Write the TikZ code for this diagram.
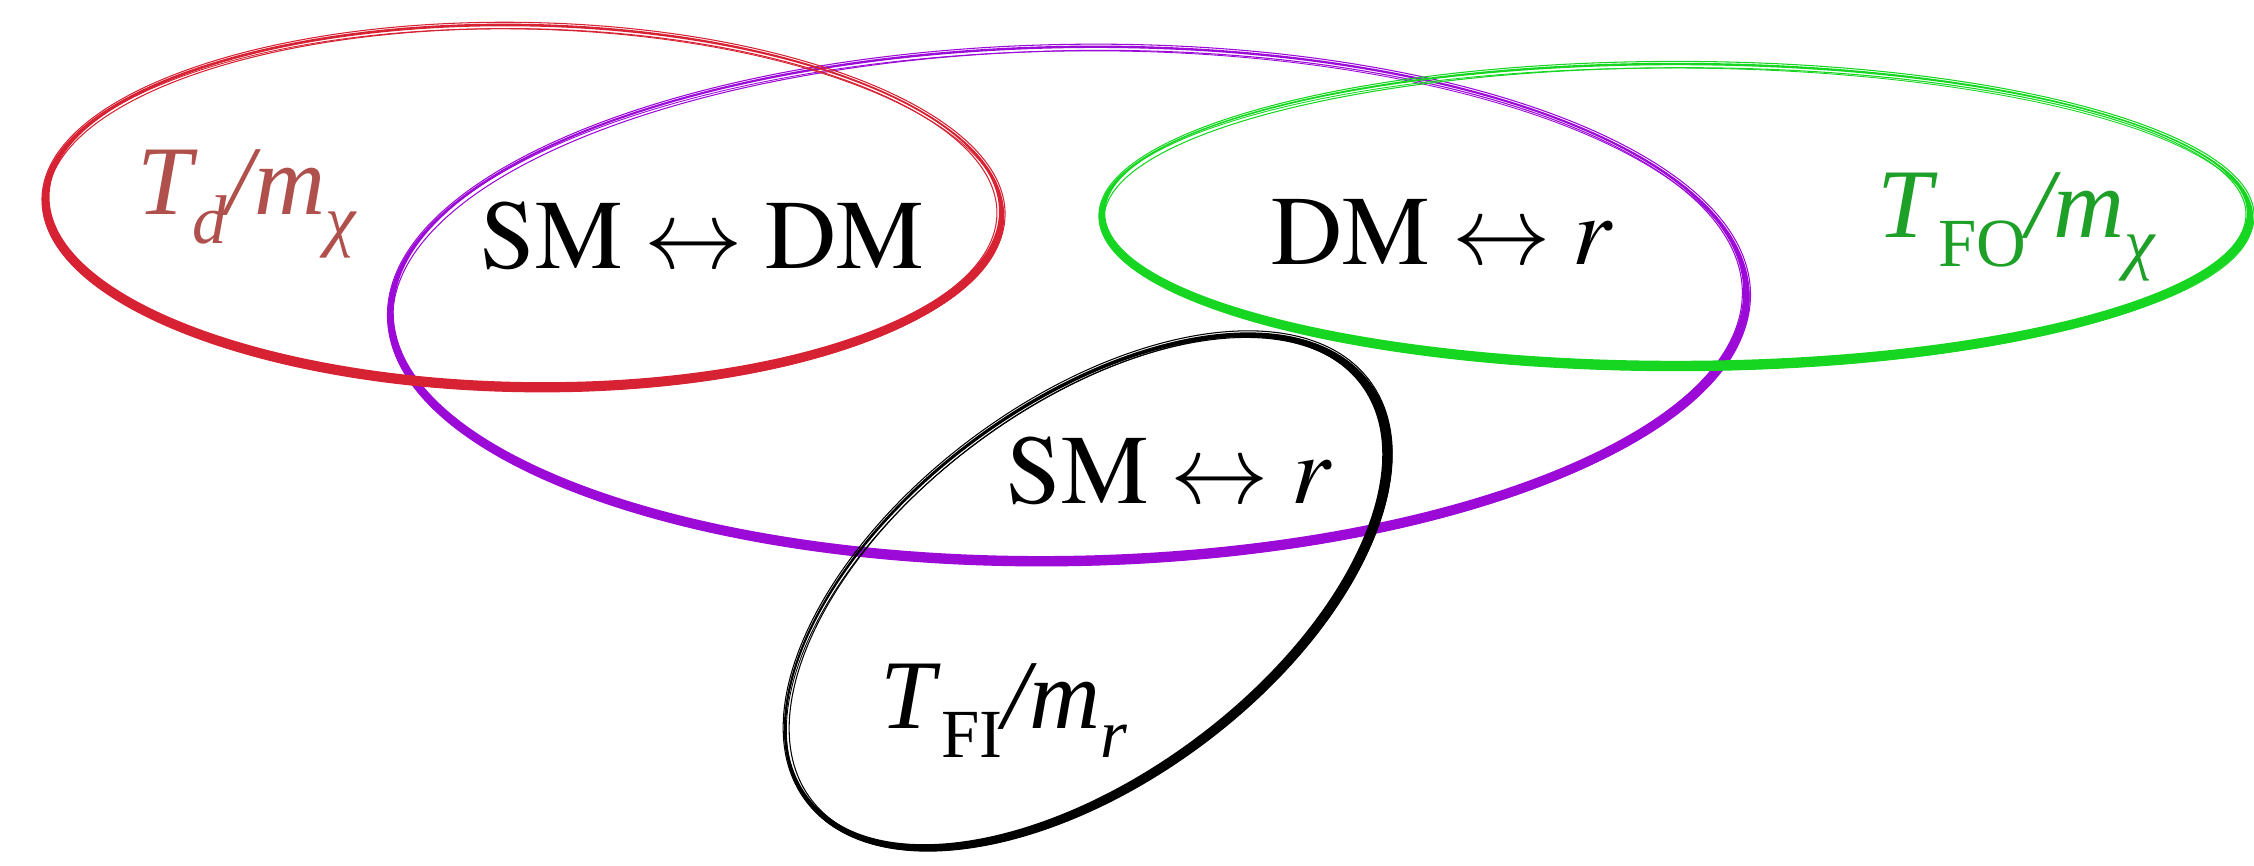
\documentclass[tikz,border=0pt]{standalone}
\usepackage[no-math]{fontspec}
\usepackage{mathptmx}
\setmainfont{Liberation Serif}
\definecolor{cred}{RGB}{214,34,50}
\definecolor{cpurple}{RGB}{155,10,214}
\definecolor{cgreen}{RGB}{22,214,34}
\definecolor{cblack}{RGB}{0,0,0}
\definecolor{lred}{RGB}{176,80,76}
\definecolor{lgreen}{RGB}{30,160,40}
\newcommand{\skell}[8]{%
 \begin{scope}[shift={(#2,#3)},rotate=#6]
  \fill[#1,even odd rule] (0,0) ellipse [x radius=#4cm+0.032cm, y radius=#5cm+0.032cm]
        (#7,#8) ellipse [x radius=#4cm-0.032cm, y radius=#5cm-0.032cm];
  \draw[#1,line width=0.3pt] (0.005,0.012) ellipse [x radius=#4cm+0.036cm, y radius=#5cm+0.034cm];
  \draw[#1,line width=0.3pt,rotate=0.25] (-0.01,0.005) ellipse [x radius=#4cm-0.03cm, y radius=#5cm-0.022cm];
  \draw[#1,line width=0.25pt,rotate=-0.2] (0.008,-0.008) ellipse [x radius=#4cm+0.02cm, y radius=#5cm-0.012cm];
 \end{scope}}
\newcommand{\lsub}[1]{\raisebox{-0.3em}{\fontsize{19.6}{20}\selectfont #1}}
\tikzset{lbl/.style={inner sep=0pt,anchor=base west,font=\fontsize{28}{34}\selectfont}}
\begin{document}
\begin{tikzpicture}
\useasboundingbox (0,0) rectangle (22.54,8.65);
\skell{cpurple}{10.685}{5.59}{6.78}{2.57}{1}{0}{0.04}
\skell{cgreen}{16.76}{6.48}{5.74}{1.51}{0}{0}{0.04}
\skell{cred}{5.23}{6.57}{4.78}{1.81}{-1}{0.012}{0.038}
\skell{cblack}{10.88}{2.73}{3.48}{1.88}{36.6}{-0.022}{0.033}
\node[lbl,text=lred] (td) at (1.37,6.51) {\itshape T\lsub{d}/m\lsub{χ}};
\node[lbl] (smdm) at (4.80,5.97) {$\mathrm{SM}\leftrightarrow\mathrm{DM}$};
\node[lbl] (dmr) at (12.71,6.01) {$\mathrm{DM}\leftrightarrow r$};
\node[lbl,text=lgreen] (tfo) at (18.77,6.28) {\textit{T}\lsub{FO}\textit{/m}\lsub{\itshape χ}};
\node[lbl] (smr) at (10.06,3.62) {$\mathrm{SM}\leftrightarrow r$};
\node[lbl] (tfi) at (8.80,1.37) {\textit{T}\lsub{FI}\textit{/m}\lsub{\itshape r}};
\end{tikzpicture}
\end{document}
